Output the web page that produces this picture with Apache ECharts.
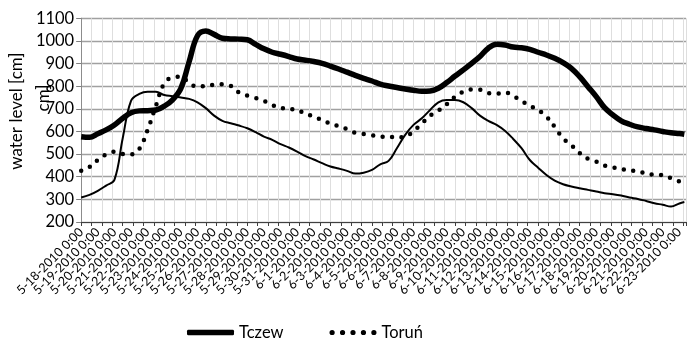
<!DOCTYPE html>
<html><head><meta charset="utf-8">
<script src="https://cdn.jsdelivr.net/npm/echarts@6/dist/echarts.min.js"></script>
<style>html,body{margin:0;padding:0;background:#fff}#c{width:694px;height:340px}</style>
</head><body><div id="c"></div>
<script>
const dateLabels = ['5-18-2010 0:00','5-19-2010 0:00','5-20-2010 0:00','5-21-2010 0:00','5-22-2010 0:00','5-23-2010 0:00','5-24-2010 0:00','5-25-2010 0:00','5-26-2010 0:00','5-27-2010 0:00','5-28-2010 0:00','5-29-2010 0:00','5-30-2010 0:00','5-31-2010 0:00','6-1-2010 0:00','6-2-2010 0:00','6-3-2010 0:00','6-4-2010 0:00','6-5-2010 0:00','6-6-2010 0:00','6-7-2010 0:00','6-8-2010 0:00','6-9-2010 0:00','6-10-2010 0:00','6-11-2010 0:00','6-12-2010 0:00','6-13-2010 0:00','6-14-2010 0:00','6-15-2010 0:00','6-16-2010 0:00','6-17-2010 0:00','6-18-2010 0:00','6-19-2010 0:00','6-20-2010 0:00','6-21-2010 0:00','6-22-2010 0:00','6-23-2010 0:00'];
// time in days from 5-18-2010 0:00
const dayOffsets = [0,0.5,1,1.5,2,2.5,3,3.5,4,4.5,5,5.5,6,6.5,7,7.5,8,8.5,9,9.5,10,10.5,11,11.5,12,12.5,13,13.5,14,14.5,15,15.5,16,16.5,17,17.5,18,18.5,19,19.5,20,20.5,21,21.5,22,22.5,23,23.5,24,24.5,25,25.5,26,26.5,27,27.5,28,28.5,29,29.5,30,30.5,31,31.5,32,32.5,33,33.5,34,34.5,35,35.5,36,36.3];
const tczew = [577,574,590,607,629,658,683,691,692,695,712,740,790,909,1023,1044,1029,1012,1009,1008,1005,985,965,950,941,931,920,915,909,901,889,876,862,848,835,823,809,801,794,788,782,778,779,791,816,845,872,901,931,968,985,982,973,970,963,950,938,923,904,879,842,798,754,705,673,647,632,620,613,607,600,594,591,588];
const torun = [426,443,474,499,510,501,499,523,607,714,813,839,842,813,798,801,806,809,801,772,758,748,735,717,704,700,695,679,666,650,635,623,610,594,589,583,577,577,574,577,602,635,670,692,720,753,776,786,785,770,767,772,757,735,714,695,666,620,570,539,505,479,467,449,441,433,429,423,416,408,408,393,379,371];
const thirdSeries = [308,320,338,361,386,570,735,766,776,776,761,756,750,744,729,703,670,647,636,626,614,597,577,563,544,529,511,491,476,460,445,436,426,414,418,430,455,470,526,585,629,658,695,729,739,739,729,703,670,647,629,603,567,526,474,440,408,383,367,357,349,342,335,327,323,317,308,302,293,283,276,268,282,288];
const yMin = 200, yMax = 1100, yStep = 100;
const xMax = 36.4;

const pairs = arr => dayOffsets.map((d, i) => [d, arr[i]]);
const FONT = 'Lato';
const dotsIcon = 'path://' + [0, 10, 20, 30, 40].map(c => 'M' + c + ',2.5a2.5,2.5 0 1,0 5,0a2.5,2.5 0 1,0 -5,0z').join('');
const labelAt = (v, onlyFirst) => {
  const i = Math.round(v);
  if (Math.abs(v - i) > 1e-6 || i >= dateLabels.length) return '';
  if (onlyFirst) return i === 0 ? dateLabels[0] : '';
  return i === 0 ? '' : dateLabels[i];
};
const labelStyle = {rotate: 45, fontFamily: FONT, fontSize: 12.5, color: '#000', margin: 8};
const chart = echarts.init(document.getElementById('c'), null, {renderer: 'canvas'});
chart.setOption({
  animation: false,
  backgroundColor: '#fff',
  grid: {left: 74.5, right: 8, top: 18.3, bottom: 118},
  legend: {
    data: [{name: 'Tczew', icon: 'roundRect'}, {name: 'Toruń', icon: dotsIcon}],
    left: 182, top: 319, itemWidth: 47, itemHeight: 5.5, itemGap: 46,
    textStyle: {fontFamily: FONT, fontSize: 16.5, color: '#000'}
  },
  xAxis: [
    {type: 'value', min: 0, max: xMax, interval: 1,
     axisLine: {show: true, lineStyle: {color: '#404040', width: 1}},
     axisTick: {show: false}, splitLine: {show: false},
     axisLabel: Object.assign({}, labelStyle, {formatter: v => labelAt(v, false)})},
    {type: 'value', min: 0, max: xMax, interval: 0.625, position: 'bottom',
     axisLine: {show: false},
     axisLabel: Object.assign({}, labelStyle, {showMinLabel: true, formatter: v => labelAt(v, true)}),
     axisTick: {show: true, length: 4, lineStyle: {color: '#404040'}},
     splitLine: {show: true, lineStyle: {color: '#dedede', width: 1}}}
  ],
  yAxis: [
    {type: 'value', min: yMin, max: yMax, interval: yStep,
     name: 'water level [cm]', nameLocation: 'middle', nameGap: 47,
     nameTextStyle: {fontFamily: FONT, fontSize: 17, color: '#000', padding: [0, 0, 0, 18]},
     axisLine: {show: true, lineStyle: {color: '#7f7f7f'}},
     axisTick: {show: true, length: 5, lineStyle: {color: '#7f7f7f'}},
     axisLabel: {fontFamily: FONT, fontSize: 16.5, color: '#000', margin: 7, formatter: v => String(v)},
     splitLine: {show: true, lineStyle: {color: '#a0a0a0', width: 1.3}}},
    {type: 'value', min: yMin, max: yMax, interval: yStep, position: 'right',
     axisLine: {show: true, lineStyle: {color: '#8c8c8c'}}, axisTick: {show: false},
     axisLabel: {show: false}, splitLine: {show: false}}
  ],
  graphic: [{type: 'text', x: 44, y: 98, rotation: Math.PI / 2, z: 100,
    style: {text: 'cm]', font: '17px Lato', fill: '#000', align: 'center', verticalAlign: 'middle'}}],
  series: [
    {type: 'line', name: 'third', data: pairs(thirdSeries), symbol: 'none', smooth: 0.4,
     lineStyle: {color: '#000', width: 2}, itemStyle: {color: '#000'}, z: 3},
    {type: 'line', name: 'Toruń', data: pairs(torun), symbol: 'none', smooth: 0.4,
     lineStyle: {color: '#000', width: 4.5, type: [0, 9.5], cap: 'round'}, itemStyle: {color: '#000'}, z: 4},
    {type: 'line', name: 'Tczew', data: pairs(tczew), symbol: 'none', smooth: 0.4,
     lineStyle: {color: '#000', width: 5.5}, itemStyle: {color: '#000'}, z: 5}
  ]
});
</script></body></html>
